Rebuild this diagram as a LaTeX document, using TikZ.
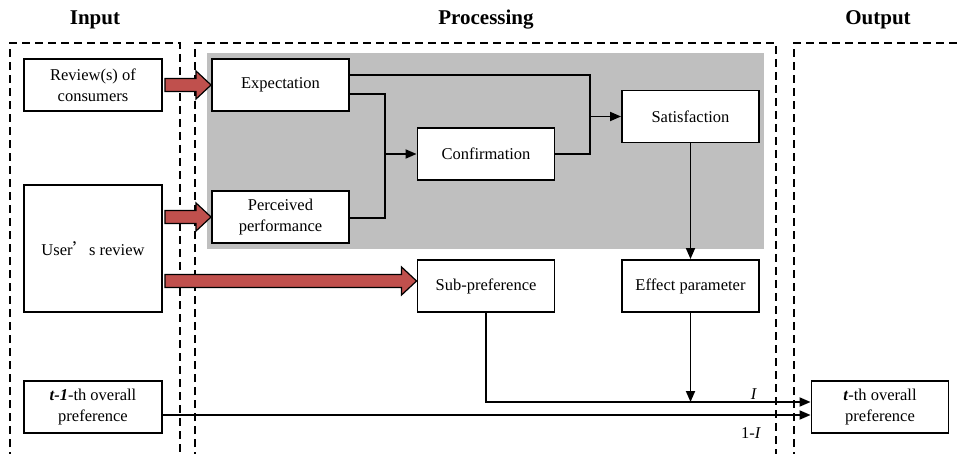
\documentclass[tikz,border=0pt]{standalone}
\usepackage{fontspec}
\setmainfont{Liberation Serif}
\newfontfamily\cjk{Noto Sans CJK SC}
\usetikzlibrary{arrows.meta,calc}
\definecolor{redfill}{HTML}{C0504D}
\definecolor{grayarea}{RGB}{191,191,191}
\newcommand{\blockarrow}[3]{%
  \path let \p1=#1, \p2=#2 in [fill=redfill,draw=black,line width=1.2pt]
    (\x1+2pt,\y2+#3+6.5pt) -- (\x2-15pt,\y2+#3+6.5pt) -- (\x2-15pt,\y2+#3+14pt) --
    (\x2,\y2+#3) -- (\x2-15pt,\y2+#3-14pt) -- (\x2-15pt,\y2+#3-6.5pt) --
    (\x1+2pt,\y2+#3-6.5pt) -- cycle;}
\tikzset{
  box/.style={draw=black,line width=1.9pt,fill=white,minimum width=137pt,minimum height=52pt,
    inner sep=0pt,align=center,font=\fontsize{16.5}{21}\selectfont},
  title/.style={font=\fontsize{21}{24}\selectfont\bfseries},
  frame/.style={draw=black,line width=2pt,dash pattern=on 8pt off 5pt},
  conn/.style={draw=black,line width=1.8pt},
  arr/.style={conn,-{Triangle[length=11pt,width=9pt]}},
  lbl/.style={font=\fontsize{16.5}{20}\selectfont,inner sep=0pt}
}
\begin{document}
\begin{tikzpicture}[x=1pt,y=-1pt]
\useasboundingbox (0,0) rectangle (960,454);
\fill[white] (0,0) rectangle (960,454);
% titles
\node[title] (tin) at (95,20) {Input};
\node[title] (tpr) at (486,20) {Processing};
\node[title] (tout) at (878,20) {Output};
% frames
\draw[frame] (10,460) -- (10,43) -- (180,43) -- (180,460);
\draw[frame] (195,460) -- (195,43) -- (776,43) -- (776,460);
\draw[frame] (794,460) -- (794,43) -- (965,43);
% gray area
\fill[grayarea] (207,53) rectangle (764,249);
% nodes
\node[box,minimum width=138pt] (rev) at (93,85) {Review(s) of\\consumers};
\node[box,minimum width=138pt,minimum height=127pt] (user) at (93,248.5) {User{\cjk ’}s review};
\node[box,minimum width=138pt] (prev) at (93,407) {\textbf{\textit{t-1}}-th overall\\preference};
\node[box] (exp) at (280.5,85) {Expectation};
\node[box] (perc) at (280.5,217) {Perceived\\performance};
\node[box] (conf) at (486,154) {Confirmation};
\node[box] (sat) at (690.5,116.5) {Satisfaction};
\node[box] (sub) at (486,286) {Sub-preference};
\node[box] (eff) at (690.5,286) {Effect parameter};
\node[box] (out) at (880,407) {\textbf{\textit{t}}-th overall\\preference};
% junctions
\coordinate (j1) at (590,116.5);
\coordinate (j2) at (385,154);
\coordinate (j3) at (690.5,402);
% red block arrows
\blockarrow{(rev.east)}{(exp.west)}{0pt}
\blockarrow{(user.east)}{(perc.west)}{0pt}
\blockarrow{(user.east)}{(sub.west)}{5pt}
% connectors
\draw[conn] ($(exp.east)+(0,-10)$) -| (j1);
\draw[conn] (conf.east) -| (j1);
\draw[arr] (j1) -- (sat.west);
\draw[conn] ($(exp.east)+(0,9)$) -| (j2);
\draw[conn] ($(perc.east)+(0,1)$) -| (j2);
\draw[arr] (j2) -- (conf.west);
\draw[arr] (sat.south) -- (eff.north);
\draw[arr] (eff.south) -- (j3);
\draw[arr] (sub.south) |- ($(out.west)+(0,-5)$);
\draw[arr] ($(prev.east)+(0,8)$) -- ($(out.west)+(0,8)$);
\node[lbl] (li) at (754,394) {\textit{I}};
\node[lbl] (l1i) at (751,433) {1-\textit{I}};
\end{tikzpicture}
\end{document}
